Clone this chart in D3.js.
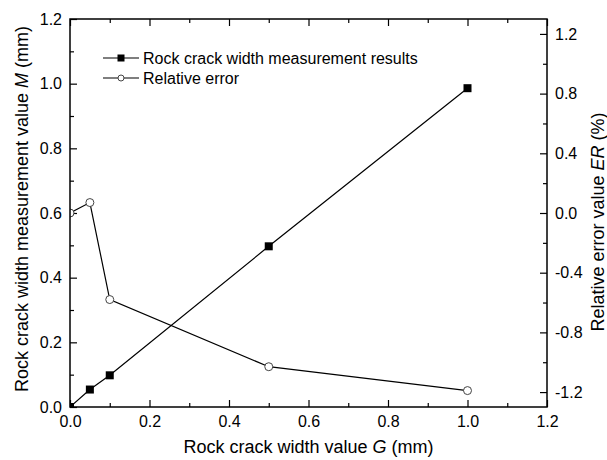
<!DOCTYPE html>
<html>
<head>
<meta charset="utf-8">
<script src="https://cdn.jsdelivr.net/npm/d3@7"></script>
<style>
  body { margin: 0; background: #fff; }
  text { font-family: "Liberation Sans", Arial, sans-serif; fill: #000; }
</style>
</head>
<body>
<script>
// chart data
var widthG = [0, 0.05, 0.1, 0.5, 1.0];
var measuredM = [0, 0.054, 0.098, 0.497, 0.986];
var relError = [0.0, 0.07, -0.58, -1.03, -1.19];

var xTicks = [0, 0.2, 0.4, 0.6, 0.8, 1.0, 1.2];
var yLeftTicks = [0, 0.2, 0.4, 0.6, 0.8, 1.0, 1.2];
var yRightTicks = [-1.2, -0.8, -0.4, 0.0, 0.4, 0.8, 1.2];

var legendNames = ["Rock crack width measurement results", "Relative error"];

var w = 607, h = 460;
var plotLeft = 70, plotRight = 547, plotTop = 19, plotBottom = 407;
var tickFont = 16;

var svg = d3.select("body").append("svg")
  .attr("width", w)
  .attr("height", h);

// clip marks to the plot area like the original
svg.append("clipPath").attr("id", "plotClip")
  .append("rect")
  .attr("x", plotLeft).attr("y", plotTop)
  .attr("width", plotRight - plotLeft).attr("height", plotBottom - plotTop);

var x = d3.scaleLinear().domain([0, 1.2]).range([plotLeft, plotRight]);
var yL = d3.scaleLinear().domain([0, 1.2]).range([plotBottom, plotTop]);
var yR = d3.scaleLinear().domain([-1.3, 1.3]).range([plotBottom, plotTop]);

// minor tick helper
function minors(step, lo, hi) {
  var out = [];
  for (var v = lo; v <= hi + 1e-9; v += step) out.push(+v.toFixed(3));
  return out;
}

// bottom axis
svg.append("g")
  .attr("transform", "translate(0," + plotBottom + ")")
  .call(d3.axisBottom(x).tickValues(xTicks).tickSizeInner(-7).tickSizeOuter(0).tickPadding(9)
    .tickFormat(d3.format(".1f")))
  .call(function(g){ g.select(".domain").remove(); g.selectAll("text").attr("font-size", tickFont); });
svg.append("g")
  .attr("transform", "translate(0," + plotBottom + ")")
  .call(d3.axisBottom(x).tickValues(minors(0.2, 0.1, 1.1)).tickSizeInner(-4).tickSizeOuter(0).tickFormat(""))
  .call(function(g){ g.select(".domain").remove(); });

// top axis (ticks only)
svg.append("g")
  .attr("transform", "translate(0," + plotTop + ")")
  .call(d3.axisTop(x).tickValues(xTicks).tickSizeInner(-7).tickSizeOuter(0).tickFormat(""))
  .call(function(g){ g.select(".domain").remove(); });
svg.append("g")
  .attr("transform", "translate(0," + plotTop + ")")
  .call(d3.axisTop(x).tickValues(minors(0.2, 0.1, 1.1)).tickSizeInner(-4).tickSizeOuter(0).tickFormat(""))
  .call(function(g){ g.select(".domain").remove(); });

// left axis
svg.append("g")
  .attr("transform", "translate(" + plotLeft + ",0)")
  .call(d3.axisLeft(yL).tickValues(yLeftTicks).tickSizeInner(-7).tickSizeOuter(0).tickPadding(8)
    .tickFormat(d3.format(".1f")))
  .call(function(g){ g.select(".domain").remove(); g.selectAll("text").attr("font-size", tickFont); });
svg.append("g")
  .attr("transform", "translate(" + plotLeft + ",0)")
  .call(d3.axisLeft(yL).tickValues(minors(0.2, 0.1, 1.1)).tickSizeInner(-4).tickSizeOuter(0).tickFormat(""))
  .call(function(g){ g.select(".domain").remove(); });

// right axis
svg.append("g")
  .attr("transform", "translate(" + plotRight + ",0)")
  .call(d3.axisRight(yR).tickValues(yRightTicks).tickSizeInner(-7).tickSizeOuter(0).tickPadding(8)
    .tickFormat(d3.format(".1f")))
  .call(function(g){ g.select(".domain").remove(); g.selectAll("text").attr("font-size", tickFont); });
svg.append("g")
  .attr("transform", "translate(" + plotRight + ",0)")
  .call(d3.axisRight(yR).tickValues(minors(0.4, -1.0, 1.0)).tickSizeInner(-4).tickSizeOuter(0).tickFormat(""))
  .call(function(g){ g.select(".domain").remove(); });

svg.selectAll(".tick line").attr("stroke", "#000").attr("stroke-width", 1.2);
svg.selectAll(".tick text").text(function(){ return this.textContent.replace("\u2212", "-"); });

// lines and markers, clipped
var marks = svg.append("g").attr("clip-path", "url(#plotClip)");

var measLine = d3.line().x(function(d, i){ return x(widthG[i]); }).y(function(d){ return yL(d); });
var errLine = d3.line().x(function(d, i){ return x(widthG[i]); }).y(function(d){ return yR(d); });

marks.append("path").datum(relError)
  .attr("d", errLine).attr("fill", "none").attr("stroke", "#000").attr("stroke-width", 1.2);
marks.append("path").datum(measuredM)
  .attr("d", measLine).attr("fill", "none").attr("stroke", "#000").attr("stroke-width", 1.2);

marks.selectAll("circle.err")
  .data(relError).enter().append("circle")
  .attr("class", "err")
  .attr("cx", function(d, i){ return x(widthG[i]); })
  .attr("cy", function(d){ return yR(d); })
  .attr("r", 4)
  .attr("fill", "#fff").attr("stroke", "#444").attr("stroke-width", 1);

marks.selectAll("rect.meas")
  .data(measuredM).enter().append("rect")
  .attr("class", "meas")
  .attr("x", function(d, i){ return x(widthG[i]) - 4; })
  .attr("y", function(d){ return yL(d) - 4; })
  .attr("width", 8).attr("height", 8)
  .attr("fill", "#000");

// frame
svg.append("rect")
  .attr("x", plotLeft).attr("y", plotTop)
  .attr("width", plotRight - plotLeft).attr("height", plotBottom - plotTop)
  .attr("fill", "none").attr("stroke", "#000").attr("stroke-width", 1.5);

// legend
var lx = 103, ly = 58, gap = 20;
legendNames.forEach(function(name, i){
  var yy = ly + i * gap;
  svg.append("line").attr("x1", lx).attr("x2", lx + 36).attr("y1", yy).attr("y2", yy)
    .attr("stroke", "#000").attr("stroke-width", 1.2);
  if (i == 0) {
    svg.append("rect").attr("x", lx + 14.5).attr("y", yy - 3.5).attr("width", 7).attr("height", 7).attr("fill", "#000");
  } else {
    svg.append("circle").attr("cx", lx + 18).attr("cy", yy).attr("r", 3)
      .attr("fill", "#fff").attr("stroke", "#444");
  }
  svg.append("text").attr("x", lx + 40).attr("y", yy).attr("dy", ".35em")
    .attr("font-size", 16).text(name);
});

// axis titles
var xt = svg.append("text")
  .attr("x", (plotLeft + plotRight) / 2).attr("y", 453)
  .style("text-anchor", "middle").attr("font-size", 18);
xt.append("tspan").text("Rock crack width value ");
xt.append("tspan").attr("font-style", "italic").text("G");
xt.append("tspan").text(" (mm)");

var yt = svg.append("text")
  .attr("transform", "translate(28,209) rotate(-90)")
  .style("text-anchor", "middle").attr("font-size", 18);
yt.append("tspan").text("Rock crack width measurement value ");
yt.append("tspan").attr("font-style", "italic").text("M");
yt.append("tspan").text(" (mm)");

var yt2 = svg.append("text")
  .attr("transform", "translate(604,222) rotate(-90)")
  .style("text-anchor", "middle").attr("font-size", 18);
yt2.append("tspan").text("Relative error value ");
yt2.append("tspan").attr("font-style", "italic").text("ER");
yt2.append("tspan").text(" (%)");
</script>
</body>
</html>
